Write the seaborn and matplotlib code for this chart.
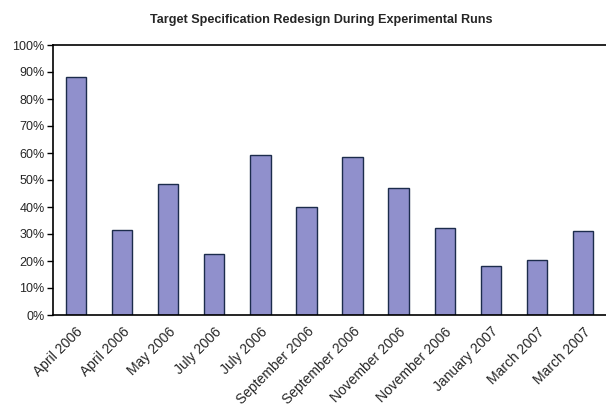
import matplotlib
matplotlib.use('Agg')
import matplotlib.pyplot as plt
import seaborn as sns
import numpy as np
import pandas as pd
from matplotlib.ticker import PercentFormatter, FixedLocator

runs = ['April 2006', 'April 2006', 'May 2006', 'July 2006', 'July 2006',
        'September 2006', 'September 2006', 'November 2006', 'November 2006',
        'January 2007', 'March 2007', 'March 2007']
redesign_pct = [88, 31.5, 48.5, 22.7, 59.3, 40.1, 58.6, 47.1, 32.1, 18.1, 20.4, 31.2]

df = pd.DataFrame({'run': [f'{i}' for i in range(len(runs))],
                   'pct': redesign_pct})

sns.set_style('white')
plt.rcParams['font.family'] = ['Liberation Sans', 'DejaVu Sans']

fig = plt.figure(figsize=(6.06, 4.12), dpi=100)
ax = fig.add_axes([53 / 606, 1 - 315 / 412, (606 - 53) / 606, 270 / 412])

sns.barplot(data=df, x='run', y='pct', ax=ax, color='#9090cc',
            edgecolor='#1c2c4c', linewidth=1.0, width=0.44, saturation=1)

ax.set_ylim(0, 100)
ax.set_xlim(-0.5, 11.5 - 0.07)
ax.yaxis.set_major_locator(FixedLocator(np.arange(0, 101, 10)))
ax.yaxis.set_major_formatter(PercentFormatter(decimals=0))
ax.set_xticks(range(len(runs)))
ax.set_xticklabels(runs, rotation=45, ha='right', rotation_mode='anchor')
ax.set_xticks(np.arange(-0.5, len(runs), 1), minor=True)
ax.tick_params(axis='x', which='major', length=0, labelsize=10, pad=7)
ax.tick_params(axis='x', which='minor', length=4, width=1, color='black', direction='out')
ax.tick_params(axis='y', length=4, width=1, color='black', direction='out', labelsize=9,
               left=True, pad=2)
ax.set_xlabel('')
ax.set_ylabel('')

for side in ['left', 'bottom', 'top']:
    ax.spines[side].set_visible(True)
    ax.spines[side].set_color('black')
    ax.spines[side].set_linewidth(1.2)
ax.spines['right'].set_visible(False)

fig.suptitle('Target Specification Redesign During Experimental Runs',
             fontsize=9.1, fontweight='bold', x=0.53, y=1 - 20 / 412, va='center')

fig.savefig('out.png', dpi=100, facecolor='white')
